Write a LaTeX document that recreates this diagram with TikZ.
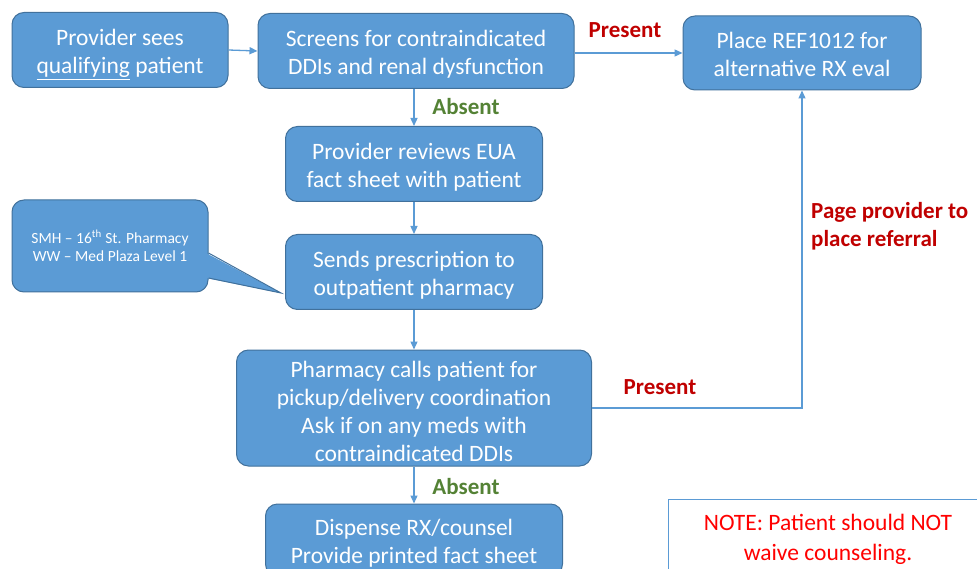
\documentclass[tikz,border=0pt]{standalone}
\usepackage{fontspec}
\setmainfont{Carlito}
\usetikzlibrary{arrows.meta}
\definecolor{boxfill}{HTML}{5B9BD5}
\definecolor{boxline}{HTML}{41719C}
\definecolor{lblred}{HTML}{C00000}
\definecolor{lblgreen}{HTML}{548235}
\definecolor{notered}{HTML}{FF0000}
\newcommand{\mlines}[2][4pt]{\raisebox{-#1}[\height][\depth]{\begin{tabular}{@{}c@{}}#2\end{tabular}}}
\tikzset{
  flowbase/.style={draw=boxline, line width=1pt, fill=boxfill, rounded corners=12pt,
    text=white, align=center, inner sep=0pt},
  flowbox/.style={flowbase, font=\fontsize{23.5}{28}\selectfont},
  conn/.style={draw=boxfill, line width=1.3pt, -{Triangle[length=8pt,width=7pt]}},
  redlbl/.style={text=lblred, font=\fontsize{23}{28}\selectfont\bfseries, inner sep=0pt},
  greenlbl/.style={text=lblgreen, font=\fontsize{23}{28}\selectfont\bfseries, inner sep=0pt},
}
\begin{document}
\begin{tikzpicture}[x=1pt,y=-1pt]
\useasboundingbox (0,0) rectangle (977,569);
\clip (0,0) rectangle (977,569);
\fill[white] (0,0) rectangle (977,569);

\node[flowbox, minimum width=216pt, minimum height=75pt] (b1) at (120,50)
  {\mlines{Provider sees\\\underline{qualifying} patient}};
\node[flowbox, minimum width=316pt, minimum height=75pt] (b2) at (416,51)
  {\mlines{Screens for contraindicated\\DDIs and renal dysfunction}};
\node[flowbox, minimum width=238pt, minimum height=74pt] (b3) at (802,53)
  {\mlines{Place REF1012 for\\alternative RX eval}};
\node[flowbox, minimum width=257pt, minimum height=75pt] (b4) at (414,164)
  {\mlines{Provider reviews EUA\\fact sheet with patient}};
\node[flowbox, minimum width=257pt, minimum height=75pt] (b5) at (414,272)
  {\mlines{Sends prescription to\\outpatient pharmacy}};
\node[flowbox, minimum width=355pt, minimum height=116pt] (b6) at (414,408)
  {\mlines[6pt]{Pharmacy calls patient for\\pickup/delivery coordination\\Ask if on any meds with\\contraindicated DDIs}};
\node[flowbox, minimum width=297pt, minimum height=72pt] (b7) at (414,540)
  {\mlines{Dispense RX/counsel\\Provide printed fact sheet}};

% callout
\node[flowbase, minimum width=196pt, minimum height=92pt, font=\fontsize{15.5}{18.5}\selectfont] (call) at (110,246)
  {SMH -- 16\textsuperscript{th} St. Pharmacy\\WW -- Med Plaza Level 1};
\coordinate (tip) at (281,293);
\fill[boxfill] (206,253) -- (tip) -- (206,278) -- cycle;
\draw[boxline, line width=1pt, line join=miter] (call.east |- 0,253) -- (tip) -- (call.east |- 0,278);

% note
\node[draw=boxfill, line width=1pt, fill=white, minimum width=320pt, minimum height=80pt,
  align=center, text=notered, font=\fontsize{23.5}{30}\selectfont, inner sep=0pt] (note) at (828,539)
  {NOTE: Patient should NOT\\waive counseling.};

% connectors
\draw[conn] (b1.east) -- (b2.west);
\draw[conn] (b2.east |- b3.west) -- (b3.west);
\draw[conn] (b2.south -| b4.north) -- (b4.north);
\draw[conn] (b4) -- (b5);
\draw[conn] (b5) -- (b6);
\draw[conn] (b6) -- (b7);
\draw[conn] (b6.east) -| (b3.south);

% labels
\node[redlbl] (lp1) at (625,30) {Present};
\node[greenlbl] (la1) at (466,107) {Absent};
\node[redlbl] (lp2) at (660,387) {Present};
\node[greenlbl] (la2) at (466,487) {Absent};
\node[redlbl, anchor=west, align=left] (lpage) at (811,226) {Page provider to\\place referral};
\end{tikzpicture}
\end{document}
